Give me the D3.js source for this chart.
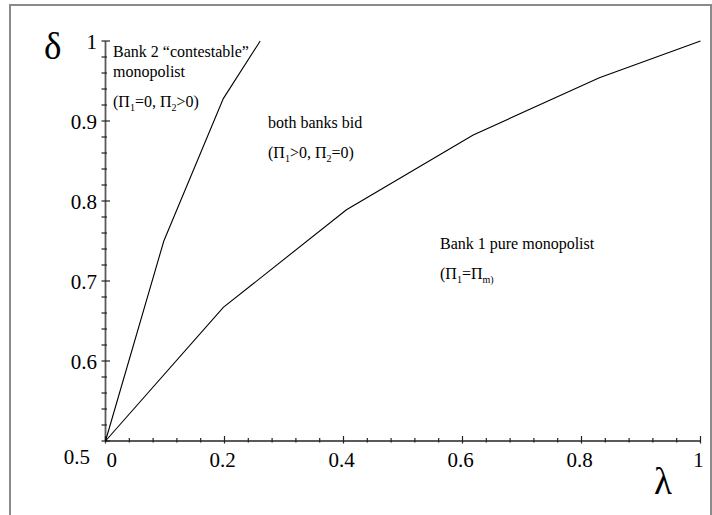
<!DOCTYPE html>
<html>
<head>
<meta charset="utf-8">
<script src="https://cdn.jsdelivr.net/npm/d3@7"></script>
<style>
  body { margin: 0; background: #fff; }
  svg { display: block; }
</style>
</head>
<body>
<svg id="chart" width="712" height="515"></svg>
<script>
// region boundaries
var contestLambda = [0, 0.098, 0.198, 0.26];
var contestDelta  = [0.5, 0.75, 0.928, 1];

var bidLambda = [0, 0.198, 0.405, 0.618, 0.83, 1];
var bidDelta  = [0.5, 0.667, 0.789, 0.8825, 0.954, 1];

var xTicks = [0, 0.2, 0.4, 0.6, 0.8, 1];
var xTickLabels = ["0", "0.2", "0.4", "0.6", "0.8", "1"];
var yTicks = [0.5, 0.6, 0.7, 0.8, 0.9, 1];
var yTickLabels = ["0.5", "0.6", "0.7", "0.8", "0.9", "1"];

var serif = "'Liberation Serif', 'Times New Roman', Tinos, serif";

var svg = d3.select("#chart")
	.attr("font-family", serif);

var x = d3.scaleLinear().domain([0, 1]).range([105.5, 700.5]);
var y = d3.scaleLinear().domain([0.5, 1]).range([441, 41]);

var axisColor = "#5a5a5a";

// frame
svg.append("rect")
	.attr("x", 10).attr("y", 5)
	.attr("width", 701).attr("height", 520)
	.attr("fill", "none")
	.attr("stroke", "#8a8a8a")
	.attr("stroke-width", 2);

var axes = svg.append("g").attr("stroke", axisColor);

// x axis
axes.append("line")
	.attr("x1", x(0)).attr("x2", x(1))
	.attr("y1", y(0.5)).attr("y2", y(0.5))
	.attr("stroke-width", 1.8);

// y axis
axes.append("line")
	.attr("x1", x(0)).attr("x2", x(0))
	.attr("y1", y(0.5)).attr("y2", y(1))
	.attr("stroke-width", 1.8);

// minor ticks
var xMinor = d3.range(0.04, 1, 0.04).filter(function(v) { return Math.abs(v * 5 - Math.round(v * 5)) > 1e-6; });
axes.selectAll(".xminor")
	.data(xMinor)
	.enter().append("line")
	.attr("x1", function(d) { return x(d); })
	.attr("x2", function(d) { return x(d); })
	.attr("y1", y(0.5) - 3).attr("y2", y(0.5) + 1.5)
	.attr("stroke", "#222")
	.attr("stroke-width", 1.2);

var yMinor = d3.range(0.52, 1, 0.02).filter(function(v) { return Math.abs(v * 10 - Math.round(v * 10)) > 1e-6; });
axes.selectAll(".yminor")
	.data(yMinor)
	.enter().append("line")
	.attr("x1", x(0) - 4).attr("x2", x(0) + 1.5)
	.attr("y1", function(d) { return y(d); })
	.attr("y2", function(d) { return y(d); })
	.attr("stroke", "#222")
	.attr("stroke-width", 1.2);

// major ticks
axes.selectAll(".xmajor")
	.data(xTicks)
	.enter().append("line")
	.attr("x1", function(d) { return x(d); })
	.attr("x2", function(d) { return x(d); })
	.attr("y1", y(0.5) - 5).attr("y2", y(0.5) + 2.5)
	.attr("stroke", "#222")
	.attr("stroke-width", 1.2);

axes.selectAll(".ymajor")
	.data(yTicks)
	.enter().append("line")
	.attr("x1", x(0) - 4).attr("x2", x(0) + 4.5)
	.attr("y1", function(d) { return y(d); })
	.attr("y2", function(d) { return y(d); })
	.attr("stroke", "#222")
	.attr("stroke-width", 1.2);

// tick labels
svg.selectAll(".xlab")
	.data(xTicks)
	.enter().append("text")
	.attr("x", function(d, i) { return i === 0 ? x(d) + 1 : x(d) - 2; })
	.attr("y", 467)
	.attr("text-anchor", function(d, i) { return i === 0 ? "start" : "middle"; })
	.attr("font-size", 21)
	.text(function(d, i) { return xTickLabels[i]; });

svg.selectAll(".ylab")
	.data(yTicks)
	.enter().append("text")
	.attr("x", function(d, i) { return i === 0 ? 90 : 97; })
	.attr("y", function(d, i) { return i === 0 ? 464 : y(d) + 8; })
	.attr("text-anchor", "end")
	.attr("font-size", 21)
	.text(function(d, i) { return yTickLabels[i]; });

// axis titles
svg.append("text")
	.attr("x", 44).attr("y", 59)
	.attr("font-size", 37)
	.text("δ");

svg.append("text")
	.attr("x", 654).attr("y", 494)
	.attr("font-size", 37)
	.text("λ");

// boundaries
var line = d3.line()
	.x(function(d) { return x(d[0]); })
	.y(function(d) { return y(d[1]); });

svg.append("path")
	.datum(d3.zip(contestLambda, contestDelta))
	.attr("d", line)
	.attr("fill", "none")
	.attr("stroke", "#000")
	.attr("stroke-width", 1.1);

svg.append("path")
	.datum(d3.zip(bidLambda, bidDelta))
	.attr("d", line)
	.attr("fill", "none")
	.attr("stroke", "#000")
	.attr("stroke-width", 1.1);

// region annotations
function label(xp, yp, txt) {
	svg.append("text")
		.attr("x", xp).attr("y", yp)
		.attr("font-size", 16)
		.text(txt);
}

// parts: [text, isSubscript, afterSubscript]
function formula(xp, yp, parts) {
	var t = svg.append("text")
		.attr("x", xp).attr("y", yp)
		.attr("font-size", 16);
	parts.forEach(function(p) {
		var s = t.append("tspan").text(p[0]);
		if (p[1]) {
			s.attr("dy", 4).attr("font-size", 10);
		} else {
			s.attr("dy", p[2] ? -4 : 0);
		}
	});
}

label(113, 57, "Bank 2 \u201ccontestable\u201d");
label(113, 77, "monopolist");
formula(113, 107, [["(\u03a0"], ["1", true], ["=0, \u03a0", false, true], ["2", true], [">0)", false, true]]);

label(268, 128, "both banks bid");
formula(268, 158, [["(\u03a0"], ["1", true], [">0, \u03a0", false, true], ["2", true], ["=0)", false, true]]);

label(440, 249, "Bank 1 pure monopolist");
formula(440, 279, [["(\u03a0"], ["1", true], ["=\u03a0", false, true], ["m)", true]]);
</script>
</body>
</html>
